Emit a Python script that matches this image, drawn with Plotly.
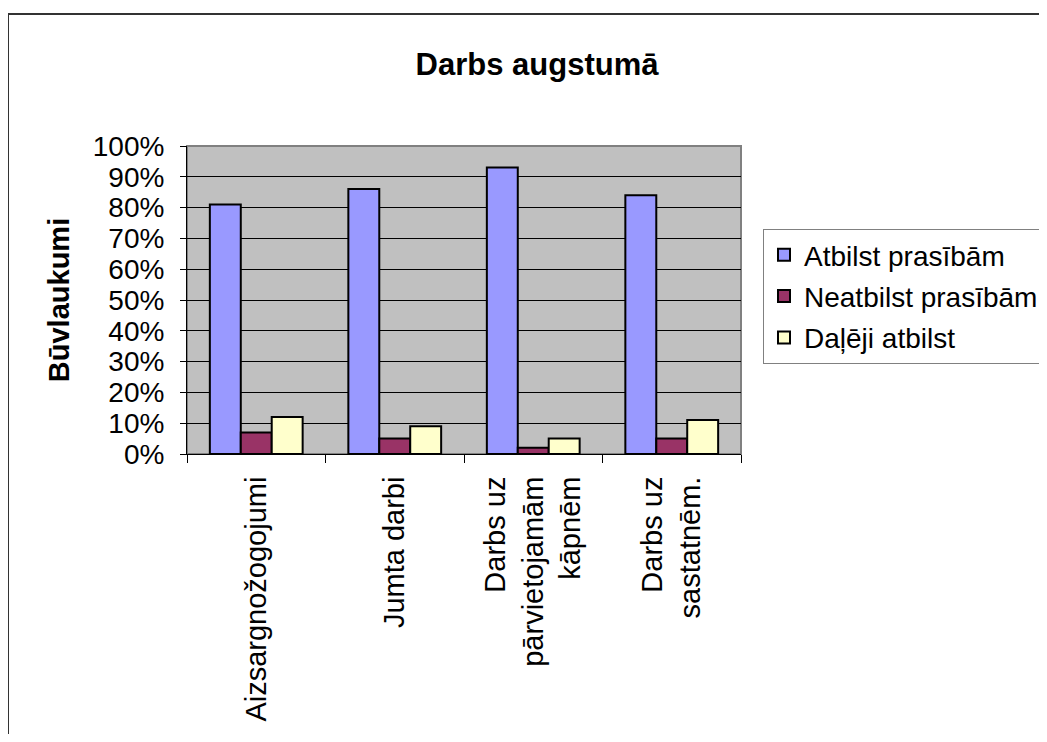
import plotly.graph_objects as go

categories = [
    "Aizsargnožogojumi",
    "Jumta darbi",
    "Darbs uz<br>pārvietojamām<br>kāpnēm",
    "Darbs uz<br>sastatnēm.",
]
atbilst = [0.81, 0.86, 0.93, 0.84]
neatbilst = [0.07, 0.05, 0.02, 0.05]
dalji = [0.12, 0.09, 0.05, 0.11]
series_names = ["Atbilst prasībām", "Neatbilst prasībām", "Daļēji atbilst"]
series_colors = ["#9999FF", "#993366", "#FFFFCC"]
y_ticks = [0, 0.1, 0.2, 0.3, 0.4, 0.5, 0.6, 0.7, 0.8, 0.9, 1.0]
y_labels = ["0%", "10%", "20%", "30%", "40%", "50%", "60%", "70%", "80%", "90%", "100%"]

FONT = "Liberation Sans, Arial, sans-serif"

fig = go.Figure()
for i, (name, vals, col) in enumerate(zip(series_names, [atbilst, neatbilst, dalji], series_colors)):
    fig.add_trace(go.Bar(x=categories, y=vals, name=name, legendgroup="g%d" % i,
                         marker=dict(color=col, line=dict(color="black", width=2))))

OFF = 8  # page body margin
W, H = 1039, 726
L, T = 187 - OFF, 146 - OFF
R = W - (741 - OFF)
B = H - (454 - OFF)
pw, ph = W - L - R, H - T - B


def px_x(x):
    return (x - OFF - L) / pw


def px_y(y):
    return (H - B - (y - OFF)) / ph


fig.update_layout(
    width=W, height=H,
    margin=dict(l=L, r=R, t=T, b=B, autoexpand=False),
    paper_bgcolor="white",
    plot_bgcolor="#C0C0C0",
    font=dict(family=FONT, size=28, color="black"),
    barmode="group",
    bargap=0.33,
    bargroupgap=0,
    title=dict(text="<b>Darbs augstumā</b>", x=(537 - OFF) / W, xanchor="center",
               y=1 - (64 - OFF) / H, yanchor="middle",
               font=dict(size=31, family=FONT, color="black")),
    showlegend=True,
    legend=dict(x=px_x(763), y=px_y(229), xanchor="left", yanchor="top",
                bordercolor="#808080", borderwidth=1, bgcolor="rgba(255,255,255,0)",
                font=dict(size=28, family=FONT), tracegroupgap=2, itemsizing="constant"),
    xaxis=dict(type="category", tickson="boundaries", ticks="outside", ticklen=8, tickcolor="black",
               showline=True, linecolor="black", linewidth=1, tickangle=-90,
               tickfont=dict(size=29, family=FONT), showgrid=False, ticklabelstandoff=10),
    yaxis=dict(range=[0, 1], tickvals=y_ticks, ticktext=y_labels, ticks="outside", ticklen=6,
               tickcolor="black", showline=True, linecolor="black", linewidth=1,
               showgrid=True, gridcolor="black", gridwidth=1, zeroline=False,
               tickfont=dict(size=28, family=FONT), ticklabelstandoff=10,
               title=dict(text="<b>Būvlaukumi</b>", font=dict(size=29, family=FONT), standoff=14)),
    shapes=[
        dict(type="rect", xref="paper", yref="paper", x0=0, x1=1, y0=0, y1=1,
             line=dict(color="#808080", width=2), layer="below"),
        dict(type="rect", xref="paper", yref="paper", x0=px_x(8), x1=px_x(1045), y0=px_y(770), y1=px_y(14),
             line=dict(color="#333333", width=2)),
    ],
)

fig.write_html("out.html")
